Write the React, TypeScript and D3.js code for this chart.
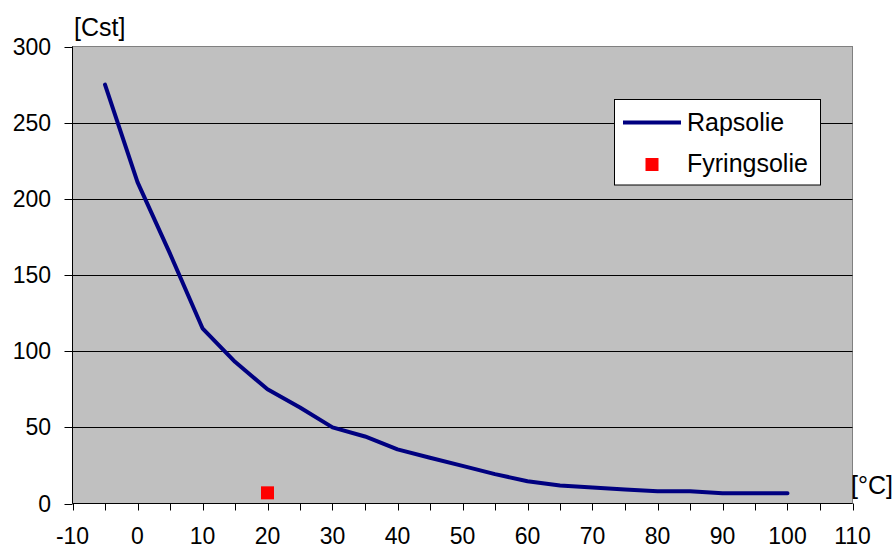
import React from "react";
import * as d3 from "d3";

const temps = [-5, 0, 5, 10, 15, 20, 25, 30, 35, 40, 45, 50, 55, 60, 65, 70, 75, 80, 85, 90, 95, 100];
const rapsolie = [275, 211, 164, 115, 93, 75, 63, 50, 44, 35.5, 30, 24.7, 19.3, 14.6, 11.8, 10.5, 9.2, 8.1, 8.1, 6.8, 6.8, 6.8];
const fyringTemp = [20];
const fyringsolie = [7];
const xTicks = [-10, 0, 10, 20, 30, 40, 50, 60, 70, 80, 90, 100, 110];
const xMinorTicks = d3.range(-10, 111, 5);
const yTicks = [0, 50, 100, 150, 200, 250, 300];
const seriesNames = ["Rapsolie", "Fyringsolie"];

const W = 893, H = 549;
const L = 72.5, R = 852.5, T = 46.5, B = 503.5;
const font = "'Liberation Sans', Arial, sans-serif";

export default function App() {
  const x = d3.scaleLinear().domain([-10, 110]).range([L, R]);
  const y = d3.scaleLinear().domain([0, 300]).range([B, T]);
  const line = d3.line<number>().x((_, i) => x(temps[i])).y((d) => y(d));
  const pts = rapsolie;
  return (
    <svg width={W} height={H} style={{ position: "absolute", left: 0, top: 0, background: "#fff" }} fontFamily={font}>
      <rect x={L} y={T} width={R - L} height={B - T} fill="#C0C0C0" stroke="#808080" strokeWidth={1} />
      {yTicks.filter((t) => t > 0 && t < 300).map((t) => (
        <line key={"g" + t} x1={L} x2={R} y1={Math.round(y(t)) + 0.5} y2={Math.round(y(t)) + 0.5} stroke="#000" strokeWidth={1} />
      ))}
      {/* y axis */}
      <line x1={L} x2={L} y1={T} y2={B} stroke="#000" strokeWidth={1} />
      {yTicks.map((t) => (
        <g key={"y" + t}>
          <line x1={L - 8} x2={L} y1={Math.round(y(t)) + 0.5} y2={Math.round(y(t)) + 0.5} stroke="#000" />
          <text x={51} y={y(t) + 8} textAnchor="end" fontSize={23} fill="#000">{t}</text>
        </g>
      ))}
      {/* x axis */}
      <line x1={L} x2={R} y1={B} y2={B} stroke="#000" strokeWidth={1} />
      {xMinorTicks.map((t) => (
        <line key={"xm" + t} x1={Math.round(x(t)) + 0.5} x2={Math.round(x(t)) + 0.5} y1={B} y2={B + 7} stroke="#000" />
      ))}
      {xTicks.map((t) => (
        <text key={"x" + t} x={x(t)} y={544} textAnchor="middle" fontSize={23} fill="#000">{t}</text>
      ))}
      <text x={74} y={36} fontSize={25} fill="#000">[Cst]</text>
      <text x={851} y={494} fontSize={25} fill="#000">[°C]</text>
      {/* series */}
      <path d={line(pts) || ""} fill="none" stroke="#000080" strokeWidth={4} strokeLinejoin="round" strokeLinecap="round" />
      {fyringsolie.map((v, i) => (
        <rect key={"f" + i} x={x(fyringTemp[i]) - 6.5} y={y(v) - 6.5} width={13} height={13} fill="#FF0000" />
      ))}
      {/* legend */}
      <rect x={614.5} y={99.5} width={206} height={85.5} fill="#fff" stroke="#000" strokeWidth={1} />
      <line x1={623} x2={681} y1={122.5} y2={122.5} stroke="#000080" strokeWidth={4} />
      <text x={687} y={131} fontSize={25} fill="#000">{seriesNames[0]}</text>
      <rect x={645.5} y={158} width={13} height={13} fill="#FF0000" />
      <text x={687} y={172} fontSize={25} fill="#000">{seriesNames[1]}</text>
    </svg>
  );
}
